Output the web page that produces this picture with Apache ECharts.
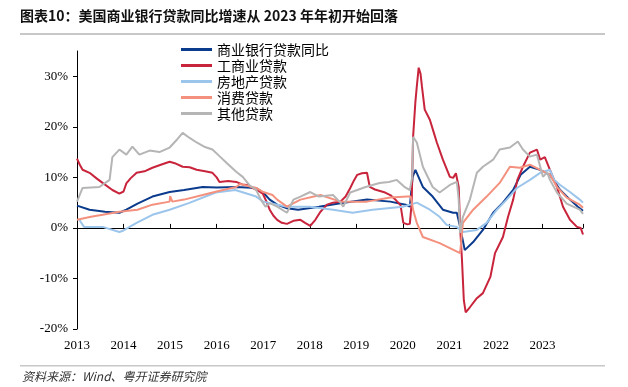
<!DOCTYPE html>
<html><head><meta charset="utf-8">
<script src="https://cdn.jsdelivr.net/npm/echarts@6/dist/echarts.min.js"></script>
<style>html,body{margin:0;padding:0;background:#fff}#c{width:628px;height:387px}</style>
</head><body><div id="c"></div>
<script>
// decimal year, value (%)
const seriesNames = ['商业银行贷款同比','工商业贷款','房地产贷款','消费贷款','其他贷款'];
const yTicks = [-20,-10,0,10,20,30];
const bankTotal = [[2013.00,4.4],[2013.27,3.6],[2013.6,3.2],[2013.91,3.0],[2014.06,3.6],[2014.3,4.8],[2014.62,6.2],[2014.99,7.1],[2015.3,7.5],[2015.7,8.1],[2016.0,8.0],[2016.42,8.1],[2016.85,7.9],[2017.0,7.0],[2017.14,5.6],[2017.3,4.6],[2017.51,3.9],[2017.75,3.6],[2018.2,4.2],[2018.66,4.9],[2019.23,5.6],[2019.73,5.2],[2020.06,4.6],[2020.15,4.2],[2020.21,10.1],[2020.27,11.5],[2020.43,8.1],[2020.64,6.2],[2020.86,3.6],[2021.08,3.0],[2021.16,3.0],[2021.23,0.2],[2021.33,-4.4],[2021.51,-2.8],[2021.72,-0.4],[2021.94,3.0],[2022.15,5.0],[2022.37,7.5],[2022.53,10.5],[2022.73,12.1],[2022.95,11.5],[2023.16,10.5],[2023.38,7.5],[2023.59,5.6],[2023.76,4.2],[2023.87,3.4]];
const commercial = [[2013.00,13.7],[2013.06,12.5],[2013.12,11.5],[2013.27,10.9],[2013.42,9.8],[2013.55,8.9],[2013.76,7.5],[2013.91,6.8],[2014.0,7.2],[2014.06,8.8],[2014.15,9.8],[2014.28,10.9],[2014.45,11.2],[2014.62,11.9],[2014.8,12.5],[2014.99,13.1],[2015.1,12.8],[2015.27,12.1],[2015.42,12.0],[2015.57,11.5],[2015.75,11.2],[2015.91,10.9],[2016.0,10.0],[2016.06,9.1],[2016.25,9.3],[2016.42,9.1],[2016.55,8.6],[2016.65,8.5],[2016.77,7.9],[2016.9,7.3],[2016.99,6.8],[2017.07,5.2],[2017.14,3.6],[2017.22,2.4],[2017.3,1.6],[2017.4,1.0],[2017.51,0.8],[2017.65,1.4],[2017.8,1.6],[2017.9,1.0],[2018.01,0.4],[2018.12,1.6],[2018.23,3.2],[2018.37,4.6],[2018.5,5.0],[2018.66,5.2],[2018.77,6.2],[2018.87,7.9],[2018.95,9.4],[2019.02,10.5],[2019.12,10.8],[2019.23,10.9],[2019.29,8.1],[2019.4,7.6],[2019.51,7.3],[2019.62,7.0],[2019.73,6.5],[2019.85,5.5],[2019.95,4.5],[2020.01,1.0],[2020.1,0.7],[2020.15,0.8],[2020.19,5.0],[2020.22,18.0],[2020.27,25.0],[2020.3,28.0],[2020.34,31.7],[2020.38,30.5],[2020.41,28.0],[2020.47,23.4],[2020.58,21.4],[2020.66,19.0],[2020.73,16.9],[2020.86,13.5],[2021.01,10.1],[2021.08,9.9],[2021.14,10.8],[2021.17,10.5],[2021.2,8.1],[2021.23,0.2],[2021.27,-6.3],[2021.31,-14.3],[2021.35,-16.7],[2021.44,-15.7],[2021.59,-13.9],[2021.72,-12.9],[2021.88,-9.7],[2021.98,-5.0],[2022.15,-1.8],[2022.26,2.2],[2022.37,5.6],[2022.46,9.5],[2022.58,12.1],[2022.73,14.9],[2022.88,15.5],[2022.95,13.5],[2023.05,14.0],[2023.16,11.5],[2023.31,8.1],[2023.44,4.2],[2023.59,1.6],[2023.74,0.2],[2023.82,0.0],[2023.87,-1.3]];
const realEstate = [[2013.05,1.6],[2013.15,0.2],[2013.55,0.2],[2013.91,-0.8],[2014.0,-0.5],[2014.28,1.0],[2014.62,2.6],[2014.99,3.6],[2015.4,4.9],[2015.98,7.0],[2016.4,7.5],[2016.85,6.2],[2017.0,5.2],[2017.3,4.6],[2017.51,4.2],[2018.0,4.2],[2018.5,3.6],[2018.92,3.0],[2019.35,3.6],[2019.78,4.0],[2020.0,4.2],[2020.3,5.0],[2020.58,3.6],[2020.79,2.2],[2020.94,0.6],[2021.16,0.2],[2021.29,-0.8],[2021.59,-0.4],[2021.8,1.0],[2022.02,3.6],[2022.23,5.6],[2022.45,7.9],[2022.73,9.5],[2022.95,10.9],[2023.16,11.5],[2023.25,9.5],[2023.38,8.5],[2023.59,7.1],[2023.8,5.6],[2023.87,5.0]];
const consumer = [[2013.0,1.6],[2013.3,2.2],[2013.55,2.6],[2013.91,3.2],[2014.3,3.6],[2014.62,4.6],[2014.99,5.2],[2015.0,6.3],[2015.05,5.2],[2015.3,5.6],[2015.7,6.5],[2016.0,7.2],[2016.42,8.1],[2016.5,8.7],[2016.85,7.9],[2017.0,7.1],[2017.2,6.5],[2017.3,5.6],[2017.51,4.2],[2017.8,5.6],[2018.23,6.5],[2018.66,5.2],[2019.23,5.2],[2019.73,6.0],[2020.1,6.2],[2020.17,6.2],[2020.22,3.6],[2020.3,1.0],[2020.43,-1.8],[2020.79,-3.0],[2021.23,-5.0],[2021.29,1.0],[2021.51,3.6],[2021.8,6.2],[2022.08,8.9],[2022.3,12.1],[2022.51,11.9],[2022.73,12.5],[2022.95,11.5],[2023.16,10.5],[2023.31,8.1],[2023.52,6.0],[2023.8,4.6],[2023.87,4.0]];
const other = [[2013.0,5.2],[2013.12,7.9],[2013.48,8.1],[2013.7,9.5],[2013.76,14.0],[2013.91,15.5],[2014.06,14.5],[2014.19,16.1],[2014.34,14.5],[2014.56,15.3],[2014.77,15.0],[2014.99,15.9],[2015.15,17.5],[2015.27,18.8],[2015.42,17.8],[2015.57,16.9],[2015.75,16.0],[2015.91,15.5],[2016.06,14.2],[2016.21,12.9],[2016.42,11.1],[2016.56,10.1],[2016.7,8.5],[2016.85,7.5],[2016.95,5.6],[2017.05,4.2],[2017.14,4.9],[2017.3,4.2],[2017.51,3.0],[2017.65,5.6],[2017.8,6.2],[2018.01,7.1],[2018.2,6.2],[2018.5,6.5],[2018.66,5.0],[2018.72,4.2],[2018.87,7.0],[2019.2,8.1],[2019.5,8.9],[2019.7,9.1],[2019.87,9.5],[2020.05,8.0],[2020.15,7.5],[2020.2,10.0],[2020.22,18.0],[2020.3,16.9],[2020.43,12.1],[2020.64,8.1],[2020.79,7.0],[2021.01,8.5],[2021.16,9.1],[2021.2,5.6],[2021.23,-1.0],[2021.29,2.2],[2021.44,5.6],[2021.59,10.9],[2021.72,12.1],[2021.94,13.5],[2022.08,15.5],[2022.3,15.9],[2022.47,17.1],[2022.58,15.5],[2022.73,14.1],[2022.88,14.5],[2023.01,10.1],[2023.1,11.0],[2023.16,9.5],[2023.31,7.0],[2023.52,4.8],[2023.8,3.6],[2023.87,2.8]];
const colors = ['#0b3b8c','#c8243c','#9cc5ec','#f4917e','#b5b5b5'];
const allData = [bankTotal, commercial, realEstate, consumer, other];

const chart = echarts.init(document.getElementById('c'), null, {renderer:'canvas'});
const serif = 'Liberation Serif, Times New Roman, serif';
const cjk = 'Noto Sans CJK SC';
chart.setOption({
  animation:false,
  backgroundColor:'#fff',
  color: colors,
  grid:{left:77, right:45, top:51, bottom:58},
  legend:{
    orient:'vertical', left:176, top:37, itemWidth:31, itemHeight:3, itemGap:1, icon:'rect',
    data: seriesNames,
    textStyle:{fontFamily:cjk, fontSize:14, color:'#000', lineHeight:15}
  },
  graphic:[
    {type:'text', left:20, top:9, style:{text:'图表10：美国商业银行贷款同比增速从 2023 年年初开始回落', font:'bold 14px "Noto Sans CJK SC"', fill:'#111'}},
    {type:'rect', shape:{x:20,y:33,width:585,height:2}, style:{fill:'#c8c8c8'}},
    {type:'rect', shape:{x:20,y:365,width:585,height:1.5}, style:{fill:'#c8c8c8'}},
    {type:'text', left:22, top:370, style:{text:'资料来源：Wind、粤开证券研究院', font:'italic 12px "Noto Sans CJK SC"', fill:'#333'}}
  ],
  xAxis:[
    {type:'value', min:2013, max:2023.87, interval:1, position:'bottom',
     axisLine:{show:true, onZero:true, lineStyle:{color:'#000', width:1}},
     axisTick:{show:true, inside:true, length:4, lineStyle:{color:'#000'}},
     axisLabel:{show:false}, splitLine:{show:false}},
    {type:'value', min:2013, max:2023.87, interval:1, position:'bottom',
     axisLine:{show:false, onZero:false}, axisTick:{show:false}, splitLine:{show:false},
     axisLabel:{show:true, margin:10, showMaxLabel:false, fontFamily:serif, fontSize:13, color:'#000', formatter:v=>String(v)}}
  ],
  yAxis:{type:'value', min:-20, max:35, interval:10,
    axisLine:{show:true, lineStyle:{color:'#000', width:1}},
    axisTick:{show:true, inside:false, length:4, lineStyle:{color:'#000'}},
    splitLine:{show:false},
    axisLabel:{margin:9, fontFamily:serif, fontSize:13, color:'#000', formatter:'{value}%', showMaxLabel:false}
  },
  series: seriesNames.map((n,i)=>({
    name:n, type:'line', xAxisIndex:0, data:allData[i], showSymbol:false, symbol:'none',
    lineStyle:{width:2, color:colors[i]}, itemStyle:{color:colors[i]}
  }))
});
</script></body></html>
